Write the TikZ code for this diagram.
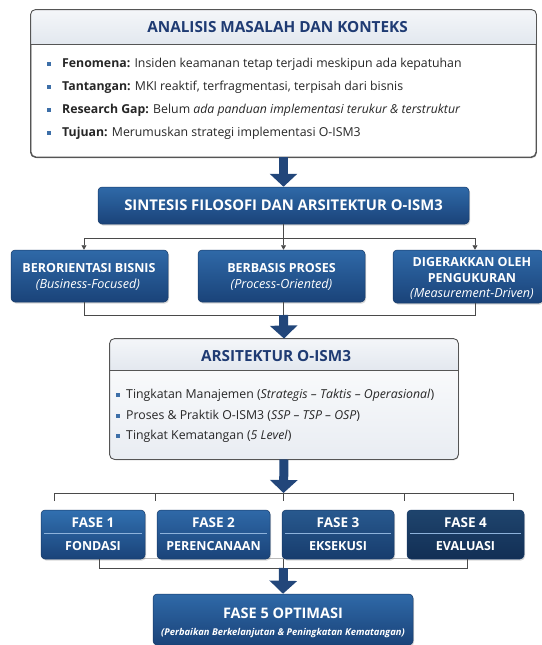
\documentclass[tikz,border=0pt]{standalone}
\usepackage{fontspec}
\setmainfont{Open Sans}
\usetikzlibrary{shadows,arrows.meta}
\definecolor{navy}{HTML}{1F3B73}
\definecolor{boxtop}{HTML}{2F69A8}
\definecolor{boxbot}{HTML}{1A4379}
\definecolor{f1top}{HTML}{3170B0}
\definecolor{arrowc}{HTML}{22467A}
\definecolor{linec}{HTML}{4A4A4A}
\definecolor{bordc}{HTML}{555555}
\definecolor{hdrtop}{HTML}{F4F6F9}
\definecolor{hdrbot}{HTML}{E3E8EF}
\definecolor{bulc}{HTML}{3D6FA8}
\definecolor{txtc}{HTML}{262626}
\definecolor{fdiv}{HTML}{8DB2DB}
\begin{document}
\begin{tikzpicture}[x=1pt,y=-1pt,
  bluebox/.style={rounded corners=4pt, top color=boxtop, bottom color=boxbot,
    draw=boxbot!85!black, line width=0.5pt, inner sep=0pt,
    drop shadow={opacity=0.3,shadow xshift=1pt,shadow yshift=-1.5pt}},
  lightbox/.style={rounded corners=5pt, draw=bordc, line width=0.9pt, inner sep=0pt,
    drop shadow={opacity=0.2,shadow xshift=1pt,shadow yshift=-1.5pt}},
  fatarrow/.style={draw=arrowc, line width=9pt, -{Triangle[width=27pt,length=13pt]}},
  conn/.style={draw=linec, line width=0.9pt},
  smallarr/.style={conn, -{Triangle[width=5pt,length=4.5pt]}},
  wt/.style={text=white, font=\bfseries\fontsize{12.5}{14}\selectfont, inner sep=0pt},
  wi/.style={text=white, font=\itshape\fontsize{12.6}{14}\selectfont, inner sep=0pt},
  hdr/.style={text=navy, font=\bfseries\fontsize{15.3}{18}\selectfont, inner sep=0pt},
  bul/.style={anchor=west, text=txtc, font=\fontsize{12.3}{14}\selectfont, inner sep=0pt},
  sq/.style={fill=bulc, minimum size=3.6pt, inner sep=0pt}
]
\useasboundingbox (0,0) rectangle (541,645);

% ---------------- Top box ----------------
\node[lightbox, fill=white, minimum width=505pt, minimum height=147pt] (ana) at (283.5,83.5) {};
\coordinate (h1) at (0,44);
\begin{scope}
  \clip[rounded corners=5pt] (ana.north west) rectangle (ana.south east);
  \fill[top color=hdrtop, bottom color=hdrbot] (ana.north west) rectangle (ana.east |- h1);
\end{scope}
\draw[bordc, line width=0.8pt] (ana.west |- h1) -- (ana.east |- h1);
\draw[bordc, line width=0.9pt, rounded corners=5pt] (ana.north west) rectangle (ana.south east);
\node[hdr] (anat) at (277.5,27) {ANALISIS MASALAH DAN KONTEKS};
\node[sq] (s1) at (49,64) {};
\node[sq] (s2) at (49,87) {};
\node[sq] (s3) at (49,110) {};
\node[sq] (s4) at (49,133) {};
\node[bul] (t1) at (62,64) {\textbf{Fenomena:} Insiden keamanan tetap terjadi meskipun ada kepatuhan};
\node[bul] (t2) at (62,87) {\textbf{Tantangan:} MKI reaktif, terfragmentasi, terpisah dari bisnis};
\node[bul] (t3) at (62,110) {\textbf{Research Gap:} Belum \textit{ada panduan implementasi terukur \& terstruktur}};
\node[bul] (t4) at (62,133) {\textbf{Tujuan:} Merumuskan strategi implementasi O-ISM3};

% ---------------- Sintesis ----------------
\node[bluebox, minimum width=371pt, minimum height=37pt] (sin) at (283.5,205.5) {};
\node[wt, font=\bfseries\fontsize{14.8}{17}\selectfont] (sint) at (sin.center) {SINTESIS FILOSOFI DAN ARSITEKTUR O-ISM3};

\draw[fatarrow] (ana.south) -- (sin.north);

% ---------------- Three pillars ----------------
\node[bluebox, minimum width=157pt, minimum height=52pt] (b1) at (89.5,276) {};
\node[bluebox, minimum width=167pt, minimum height=52pt] (b2) at (281.5,276) {};
\node[bluebox, minimum width=150pt, minimum height=53pt] (b3) at (468,276.5) {};
\node[wt] (b1t) at (89,268) {BERORIENTASI BISNIS};
\node[wi] (b1s) at (88,284.5) {(\textit{Business-Focused})};
\node[wt] (b2t) at (281.5,268) {BERBASIS PROSES};
\node[wi] (b2s) at (281.5,284.5) {(\textit{Process-Oriented})};
\node[wt] (b3t) at (472,262) {DIGERAKKAN OLEH};
\node[wt] (b3u) at (472,278) {PENGUKURAN};
\node[wi] (b3s) at (472,294) {(\textit{Measurement-Driven})};

\coordinate (hl) at (84,238);
\coordinate (hr) at (475,238);
\coordinate (hm) at (283.5,238);
\draw[conn] (sin.south) -- (hm);
\draw[conn] (hl) -- (hr);
\draw[smallarr] (hl) -- (hl |- b1.north);
\draw[smallarr] (hm) -- (hm |- b2.north);
\draw[smallarr] (hr) -- (hr |- b3.north);

\coordinate (bl) at (84,315);
\coordinate (br) at (475,315);
\coordinate (bm) at (283.5,315);
\draw[conn] (hl |- b1.south) -- (bl) -- (br) -- (hr |- b3.south);
\draw[conn] (bm |- b2.south) -- (bm);

% ---------------- Arsitektur ----------------
\node[lightbox, fill=white, minimum width=348pt, minimum height=120pt] (ars) at (284,399) {};
\coordinate (h2) at (0,370);
\begin{scope}
  \clip[rounded corners=5pt] (ars.north west) rectangle (ars.south east);
  \fill[top color=hdrtop, bottom color=hdrbot] (ars.north west) rectangle (ars.east |- h2);
  \fill[top color=hdrtop!60!white, bottom color=hdrbot!80!white] (ars.west |- h2) rectangle (ars.south east);
\end{scope}
\draw[bordc, line width=0.8pt] (ars.west |- h2) -- (ars.east |- h2);
\draw[bordc, line width=0.9pt, rounded corners=5pt] (ars.north west) rectangle (ars.south east);
\node[hdr] (arst) at (276,356) {ARSITEKTUR O-ISM3};
\node[sq] (q1) at (118,395) {};
\node[sq] (q2) at (118,416) {};
\node[sq] (q3) at (118,436) {};
\node[bul] (u1) at (126,395) {Tingkatan Manajemen (\textit{Strategis -- Taktis -- Operasional})};
\node[bul] (u2) at (126,416) {Proses \& Praktik O-ISM3 (\textit{SSP -- TSP -- OSP})};
\node[bul] (u3) at (126,436) {Tingkat Kematangan (\textit{5 Level})};

\draw[fatarrow] (bm) -- (ars.north);

% ---------------- Phases ----------------
\coordinate (p1) at (54,493);
\coordinate (p2) at (155,493);
\coordinate (p3) at (283.5,493);
\coordinate (p4) at (404,493);
\coordinate (p5) at (513,493);
\coordinate (pd) at (0,501);
\coordinate (dv) at (0,533);
\draw[fatarrow] (ars.south) -- (p3);
\draw[conn] (p1 |- pd) -- (p1) -- (p5) -- (p5 |- pd);
\draw[conn, line width=0.6pt] (p2) -- (p2 |- pd);
\draw[conn, line width=0.6pt] (p3) -- (p3 |- pd);
\draw[conn, line width=0.6pt] (p4) -- (p4 |- pd);

\draw[gray!55, line width=1.5pt] (93,558.5) -- (465,558.5);

\node[bluebox, top color=f1top, minimum width=104pt, minimum height=49pt] (f1) at (93,534.5) {};
\node[bluebox, minimum width=113pt, minimum height=49pt] (f2) at (213.5,534.5) {};
\node[bluebox, top color=boxtop!85!black, bottom color=boxbot!90!black, minimum width=112pt, minimum height=49pt] (f3) at (338,534.5) {};
\node[bluebox, top color=boxtop!65!black, bottom color=boxbot!70!black, minimum width=117pt, minimum height=49pt] (f4) at (465.5,534.5) {};
\foreach \n in {f1,f2,f3,f4}{
  \draw[fdiv, line width=0.8pt] ([xshift=3pt]\n.west |- dv) -- ([xshift=-3pt]\n.east |- dv);
}
\node[wt, font=\bfseries\fontsize{13.5}{15}\selectfont] (f1a) at (93,523) {FASE 1};
\node[wt] (f1b) at (93,546) {FONDASI};
\node[wt, font=\bfseries\fontsize{13.5}{15}\selectfont] (f2a) at (213.5,523) {FASE 2};
\node[wt] (f2b) at (213.5,546) {PERENCANAAN};
\node[wt, font=\bfseries\fontsize{13.5}{15}\selectfont] (f3a) at (338,523) {FASE 3};
\node[wt] (f3b) at (338,546) {EKSEKUSI};
\node[wt, font=\bfseries\fontsize{13.5}{15}\selectfont] (f4a) at (465.5,523) {FASE 4};
\node[wt] (f4b) at (465.5,546) {EVALUASI};

\coordinate (ql) at (99,568);
\coordinate (qr) at (467,568);
\coordinate (qm) at (283.5,568);
\draw[conn] (ql |- f1.south) -- (ql) -- (qr) -- (qr |- f4.south);
\draw[conn] (qm |- f3.south) -- (qm);

% ---------------- Fase 5 ----------------
\node[bluebox, minimum width=260pt, minimum height=51pt] (f5) at (283,619.5) {};
\node[wt, font=\bfseries\fontsize{14.5}{17}\selectfont] (f5t) at (283,613) {FASE 5 OPTIMASI};
\node[wi, font=\bfseries\itshape\fontsize{9.4}{11}\selectfont] (f5s) at (283,633) {(Perbaikan Berkelanjutan \& Peningkatan Kematangan)};
\draw[fatarrow] (qm) -- (f5.north);
\end{tikzpicture}
\end{document}
